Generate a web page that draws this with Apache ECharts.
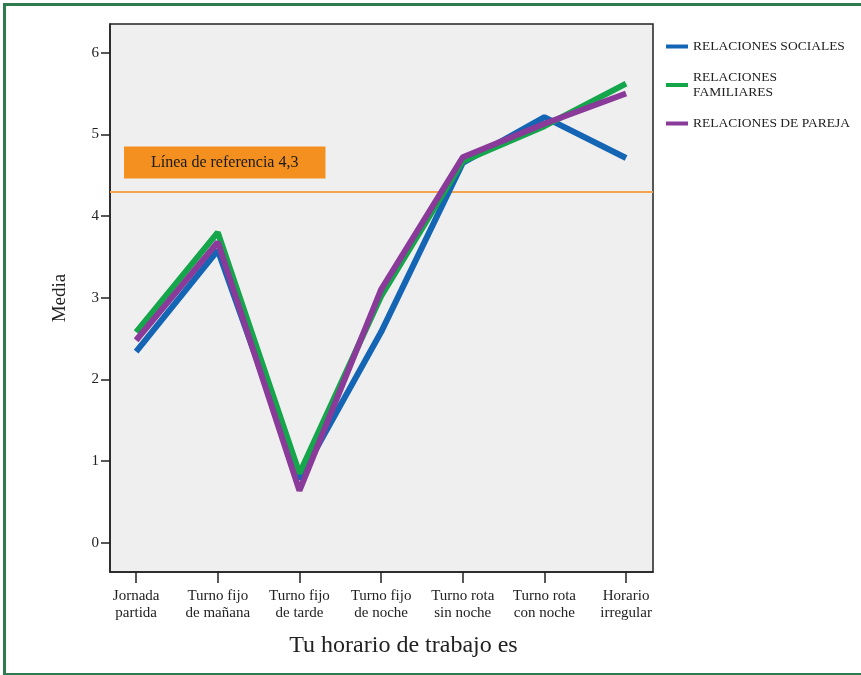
<!DOCTYPE html>
<html>
<head>
<meta charset="utf-8">
<script src="https://cdn.jsdelivr.net/npm/echarts@6/dist/echarts.min.js"></script>
<style>
  html, body { margin: 0; padding: 0; background: #ffffff; }
  #chart { position: absolute; left: 0; top: 0; width: 861px; height: 675px; }
  #frame { position: absolute; left: 3px; top: 3px; width: 900px; height: 667px;
           border-left: 3px solid #2e7b4f; border-top: 3px solid #2e7b4f; border-bottom: 3px solid #2e7b4f;
           pointer-events: none; }
</style>
</head>
<body>
<div id="chart"></div>
<div id="frame"></div>
<script>
const categories = ['Jornada\npartida', 'Turno fijo\nde mañana', 'Turno fijo\nde tarde', 'Turno fijo\nde noche', 'Turno rota\nsin noche', 'Turno rota\ncon noche', 'Horario\nirregular'];
const seriesNames = ['RELACIONES SOCIALES', 'RELACIONES FAMILIARES', 'RELACIONES DE PAREJA'];
const legendLabels = ['RELACIONES SOCIALES', 'RELACIONES\nFAMILIARES', 'RELACIONES DE PAREJA'];
const sociales   = [2.34, 3.58, 0.78, 2.58, 4.65, 5.21, 4.71];
const familiares = [2.58, 3.80, 0.85, 3.02, 4.67, 5.10, 5.62];
const pareja     = [2.48, 3.68, 0.64, 3.10, 4.72, 5.13, 5.50];
const yTicks = [0, 1, 2, 3, 4, 5, 6];
const referenceValue = 4.3;
const referenceLabel = 'Línea de referencia 4,3';
const xLabel = 'Tu horario de trabajo es';
const yLabel = 'Media';

const colors = ['#1565b5', '#15a54b', '#8a3a98'];
const serif = '"Liberation Serif", "DejaVu Serif", serif';
const xIdx = categories.map((c, i) => i);
const toPairs = arr => arr.map((v, i) => [i, v]);

const chart = echarts.init(document.getElementById('chart'));
const allSeries = [sociales, familiares, pareja].map((arr, k) => ({
  name: seriesNames[k],
  type: 'line',
  data: toPairs(arr),
  symbol: 'none',
  lineStyle: { width: 6, color: colors[k] },
  itemStyle: { color: colors[k] },
  z: 3 + k
}));
allSeries[0].markLine = {
  silent: true,
  symbol: 'none',
  z: 2,
  lineStyle: { color: '#f5a34f', width: 2, type: 'solid' },
  data: [{ yAxis: referenceValue }],
  label: {
    show: true,
    position: 'insideStartTop',
    formatter: referenceLabel,
    distance: [14, 13],
    backgroundColor: '#f39020',
    padding: [8, 27, 8, 27],
    color: '#1a1a1a',
    fontFamily: serif,
    fontSize: 16
  }
};

chart.setOption({
  animation: false,
  backgroundColor: 'transparent',
  textStyle: { fontFamily: serif },
  grid: {
    left: 110, top: 24, right: 208, bottom: 103,
    show: true, backgroundColor: '#efefef', borderColor: '#222', borderWidth: 1.5
  },
  legend: {
    orient: 'vertical',
    left: 661,
    top: 34,
    icon: 'rect',
    itemWidth: 22,
    itemHeight: 4,
    itemGap: 16,
    data: seriesNames,
    formatter: name => legendLabels[seriesNames.indexOf(name)],
    textStyle: { fontFamily: serif, fontSize: 13.5, color: '#222', lineHeight: 15 }
  },
  xAxis: {
    type: 'value',
    min: -0.32,
    max: 6.33,
    name: xLabel,
    nameLocation: 'middle',
    nameGap: 62,
    nameTextStyle: { fontFamily: serif, fontSize: 24, color: '#222', padding: [0, 0, 0, 44] },
    axisLine: { show: true, onZero: false, lineStyle: { color: '#222', width: 1.5 } },
    axisTick: { show: true, customValues: xIdx, length: 11, lineStyle: { color: '#222', width: 1.5 } },
    axisLabel: {
      customValues: xIdx,
      margin: 16,
      formatter: v => categories[Math.round(v)] || '',
      fontFamily: serif, fontSize: 15, color: '#222', lineHeight: 17
    },
    splitLine: { show: false }
  },
  yAxis: {
    type: 'value',
    min: -0.356,
    max: 6.35,
    name: yLabel,
    nameLocation: 'middle',
    nameRotate: 90,
    nameGap: 40,
    nameTextStyle: { fontFamily: serif, fontSize: 19, color: '#222' },
    axisLine: { show: true, onZero: false, lineStyle: { color: '#222', width: 1.5 } },
    axisTick: { show: true, customValues: yTicks, length: 9, lineStyle: { color: '#222', width: 1.5 } },
    axisLabel: { customValues: yTicks, margin: 11, fontFamily: serif, fontSize: 15, color: '#222' },
    splitLine: { show: false }
  },
  series: allSeries
});
</script>
</body>
</html>
